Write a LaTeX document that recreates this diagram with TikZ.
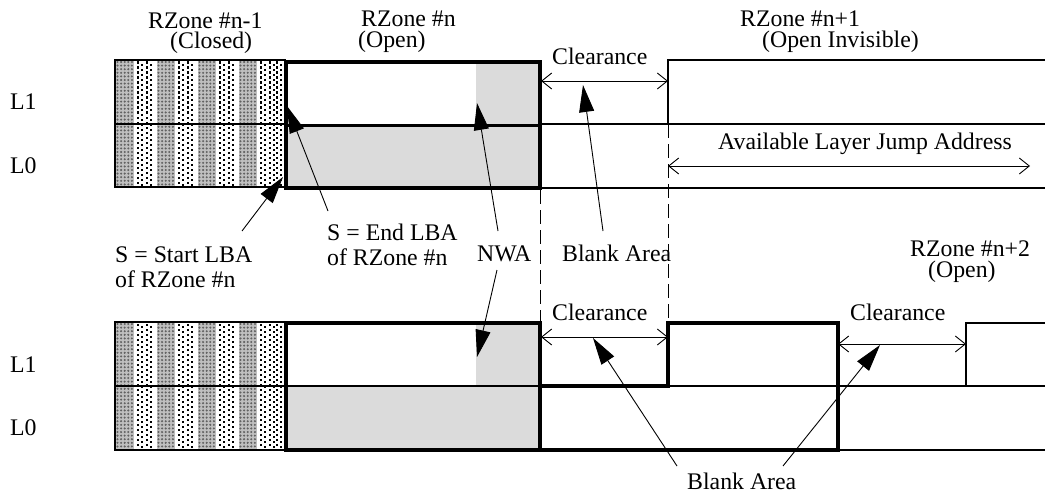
\documentclass[tikz,border=0pt]{standalone}
\usepackage{fontspec}
\setmainfont{Liberation Serif}
\usetikzlibrary{arrows.meta}
\newcommand\closedzone[1]{%
  \fill[white] (115,#1) rectangle (284,{#1+127});
  \foreach \k in {0,1,2,3}{%
    \fill[black!25] ({116+41*\k},#1) rectangle ({134+41*\k},{#1+127});
    \foreach \i in {0,...,4}{%
      \foreach \j in {0,...,34}{%
        \fill[black!62] ({117.5+41*\k+3.6*\i},{#1+2+3.6*\j}) circle (1.15);
      }%
    }%
    \foreach \i in {0,...,3}{%
      \foreach \j in {0,...,24}{%
        \fill ({136.5+41*\k+4.5*\i},{#1+1.5+5*\j+mod(\i,2)*2.5}) rectangle +(2.2,2.2);
      }%
    }%
  }%
  \foreach \xx/\s in {275.5/0,280/1}{%
    \foreach \j in {0,...,24}{%
      \fill (\xx,{#1+1.5+5*\j+\s*2.5}) rectangle +(2.2,2.2);
    }%
  }%
}
\begin{document}
\begin{tikzpicture}[x=1pt,y=-1pt,
  lbl/.style={font=\fontsize{23.8}{25}\selectfont, inner sep=0pt, anchor=base west},
  thickline/.style={line width=4.5pt, line join=miter},
  thinline/.style={line width=2pt},
  hatchborder/.style={line width=1.5pt},
  ptr/.style={line width=0.9pt, -{Triangle[length=27pt,width=15pt]}},
  dimline/.style={line width=0.9pt, {Straight Barb[length=10pt,width=16pt,line width=0.9pt]}-{Straight Barb[length=10pt,width=16pt,line width=0.9pt]}},
  guide/.style={line width=1pt, dash pattern=on 14pt off 6pt},
  nwa/.style={fill=black!14},
]
\useasboundingbox (0,0) rectangle (1045,495);

% ================= TOP DIAGRAM =================
\closedzone{60}
\draw[hatchborder] (115,60) rectangle (285,187);
\draw[thinline] (115,124) -- (286,124);
\fill[nwa] (286,124) rectangle (540,188);
\fill[nwa] (476,62) rectangle (540,124);
\draw[line width=3pt] (286,125) -- (540,125);
\draw[thinline] (540,124) -- (1045,124);
\draw[thinline] (540,188) -- (1045,188);
\draw[thinline] (668,124) -- (668,60) -- (1045,60);
\draw[thickline] (286,62) rectangle (540,188);

% guides
\draw[guide] (540,190) -- (540,322);
\draw[guide] (668,124) -- (668,322);

% dimension arrows
\coordinate (c1a) at (541,81);
\coordinate (c1b) at (668,81);
\draw[dimline] (c1a) -- (c1b);
\coordinate (ja) at (668,166);
\coordinate (jb) at (1030,166);
\draw[dimline] (ja) -- (jb);

% labels top
\node[lbl] (lL1t) at (10,110) {L1};
\node[lbl] (lL0t) at (10,173) {L0};
\node[lbl] (zprev) at (148,29) {RZone \#n-1};
\node[lbl] (zprevs) at (170,49) {(Closed)};
\node[lbl] (zn) at (361,27) {RZone \#n};
\node[lbl] (zns) at (358,48) {(Open)};
\node[lbl] (znext) at (740,27) {RZone \#n+1};
\node[lbl] (znexts) at (762,48) {(Open Invisible)};
\node[lbl] (clr1) at (552,65) {Clearance};
\node[lbl] (jump) at (718,149) {Available Layer Jump Address};

% middle labels
\node[lbl] (sstart) at (115,262) {S = Start LBA};
\node[lbl] (sstart2) at (115,287) {of RZone \#n};
\node[lbl] (send) at (327,240) {S = End LBA};
\node[lbl] (send2) at (327,265) {of RZone \#n};
\node[lbl] (nwa) at (477,261) {NWA};
\node[lbl] (blank1) at (562,261) {Blank Area};
\node[lbl] (zn2) at (910,256) {RZone \#n+2};
\node[lbl] (zn2s) at (928,277) {(Open)};

% pointers
\coordinate (ps1) at (242,231); \coordinate (pt1) at (283,177);
\draw[ptr] (ps1) -- (pt1);
\coordinate (ps2) at (328,211); \coordinate (pt2) at (287,106);
\draw[ptr] (ps2) -- (pt2);
\coordinate (ps3) at (498,231); \coordinate (pt3) at (477,103);
\draw[ptr] (ps3) -- (pt3);
\coordinate (ps4) at (603,231); \coordinate (pt4) at (583,85);
\draw[ptr] (ps4) -- (pt4);

% ================= BOTTOM DIAGRAM =================
\closedzone{322}
\draw[hatchborder] (115,322) rectangle (285,450);
\draw[thinline] (115,386) -- (286,386);
\fill[nwa] (286,386) rectangle (540,450);
\fill[nwa] (476,325) rectangle (540,386);
\draw[line width=2.5pt] (286,386) -- (540,386);
\draw[thinline] (540,386) -- (1045,386);
\draw[thinline] (838,450) -- (1045,450);
\draw[thinline] (966,386) -- (966,323) -- (1045,323);
\draw[thickline] (286,323) rectangle (540,450);
\draw[thickline] (540,386) -- (668,386) -- (668,323) -- (838,323) -- (838,450) -- (540,450);

\coordinate (c2a) at (541,337);
\coordinate (c2b) at (668,337);
\draw[dimline] (c2a) -- (c2b);
\coordinate (c3a) at (838,344);
\coordinate (c3b) at (966,344);
\draw[dimline] (c3a) -- (c3b);

\node[lbl] (lL1b) at (10,372) {L1};
\node[lbl] (lL0b) at (10,435) {L0};
\node[lbl] (clr2) at (552,320) {Clearance};
\node[lbl] (clr3) at (850,320) {Clearance};
\node[lbl] (blank2) at (687,489) {Blank Area};

\coordinate (ps5) at (497,270); \coordinate (pt5) at (477,357);
\draw[ptr] (ps5) -- (pt5);
\coordinate (ps6) at (677,466); \coordinate (pt6) at (593,338);
\draw[ptr] (ps6) -- (pt6);
\coordinate (ps7) at (783,466); \coordinate (pt7) at (880,345);
\draw[ptr] (ps7) -- (pt7);
\end{tikzpicture}
\end{document}
